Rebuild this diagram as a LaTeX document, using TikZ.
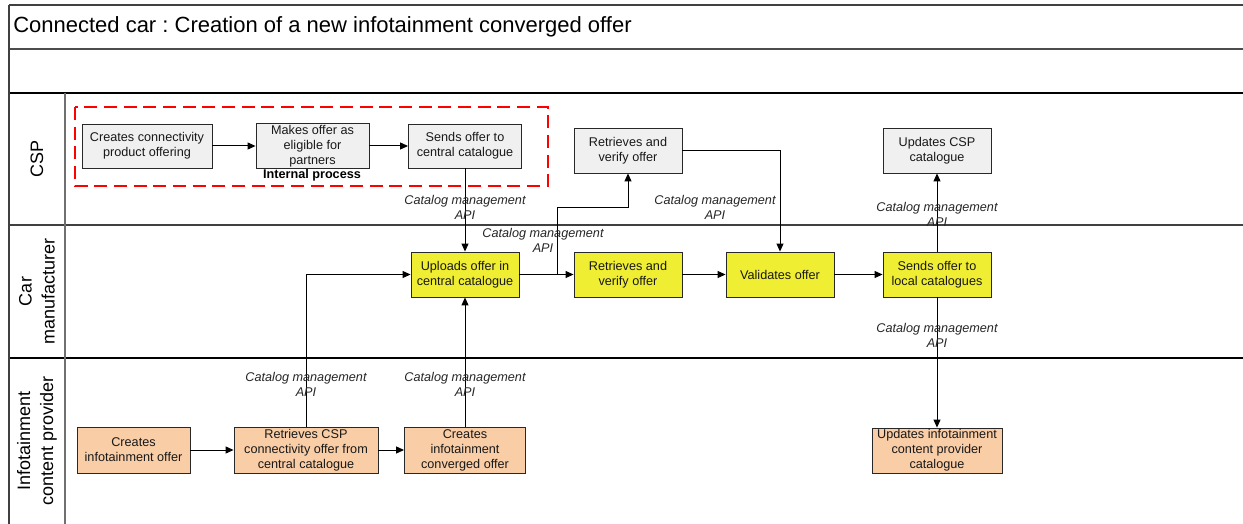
\documentclass[tikz,border=0pt]{standalone}
\usepackage{fontspec}
\setmainfont{Liberation Sans}
\frenchspacing
\usetikzlibrary{arrows.meta}
\definecolor{cspfill}{RGB}{240,240,240}
\definecolor{carfill}{RGB}{240,238,50}
\definecolor{icpfill}{RGB}{249,205,166}
\definecolor{framegray}{RGB}{64,64,64}
\definecolor{colgray}{RGB}{112,112,112}
\definecolor{boxedge}{RGB}{40,40,40}
\tikzset{
  box/.style={draw=boxedge, line width=0.65pt, align=center, inner sep=1pt,
    font=\fontsize{9.5}{11.25}\selectfont, text=black!90},
  cspbox/.style={box, fill=cspfill},
  carbox/.style={box, fill=carfill},
  icpbox/.style={box, fill=icpfill},
  flow/.style={draw=black, line width=0.75pt, -{Triangle[length=6pt,width=5.25pt]}},
  apilabel/.style={align=center, inner sep=0pt,
    font=\fontsize{9.5}{11.25}\selectfont\itshape, text=black!85},
  lanelabel/.style={rotate=90, align=center, inner sep=0pt,
    font=\fontsize{13.5}{17.25}\selectfont},
}
\begin{document}
\begin{tikzpicture}[x=0.75pt, y=-0.75pt]
\useasboundingbox (0,0) rectangle (1243,524);
\fill[white] (0,0) rectangle (1243,524);

% pool frame and lanes
\draw[framegray, line width=1.5pt] (9,5) -- (1243,5);
\draw[black!70, line width=1.3pt] (9,49) -- (1243,49);
\draw[black, line width=1.2pt] (9,93) -- (1243,93);
\draw[framegray, line width=1.9pt] (9,225) -- (1243,225);
\draw[black, line width=1.1pt] (9,358) -- (1243,358);
\draw[framegray, line width=1.3pt] (9,5) -- (9,524);
\draw[colgray, line width=1.3pt] (65,93) -- (65,524);

\node[anchor=west, inner sep=0pt, font=\fontsize{16.5}{18}\selectfont] (title) at (13,27)
  {Connected car : Creation of a new infotainment converged offer};

\node[lanelabel] (lcsp) at (37,159) {CSP};
\node[lanelabel] (lcar) at (37,291.5) {Car\\manufacturer};
\node[lanelabel] (licp) at (37,441) {Infotainment\\content provider};

% internal process group
\draw[red, line width=1.5pt, dash pattern=on 9.75pt off 5pt] (75,107) rectangle (548,186);
\node[inner sep=0pt, font=\fontsize{9.5}{11.25}\selectfont\bfseries] (internal) at (312,175) {Internal process};

% CSP lane
\node[cspbox, minimum width=97.5pt, minimum height=33pt] (b1) at (147,146) {Creates connectivity\\product offering};
\node[cspbox, minimum width=84.75pt, minimum height=33pt] (b2) at (312.5,146) {Makes offer as\\eligible for\\partners};
\node[cspbox, minimum width=84.75pt, minimum height=33pt] (b3) at (465,146) {Sends offer to\\central catalogue};
\node[cspbox, minimum width=81pt, minimum height=33.75pt] (b4) at (628,150.5) {Retrieves and\\verify offer};
\node[cspbox, minimum width=81pt, minimum height=33.75pt] (b5) at (937,150.5) {Updates CSP\\catalogue};

% Car manufacturer lane
\node[carbox, minimum width=81pt, minimum height=33.75pt] (c1) at (465,274.5) {Uploads offer in\\central catalogue};
\node[carbox, minimum width=81pt, minimum height=33.75pt] (c2) at (628,274.5) {Retrieves and\\verify offer};
\node[carbox, minimum width=81pt, minimum height=33.75pt] (c3) at (780,274.5) {Validates offer};
\node[carbox, minimum width=81pt, minimum height=33.75pt] (c4) at (937,274.5) {Sends offer to\\local catalogues};

% Infotainment content provider lane
\node[icpbox, minimum width=84.75pt, minimum height=34.5pt] (i1) at (133.5,450) {Creates\\infotainment offer};
\node[icpbox, minimum width=108pt, minimum height=34.5pt] (i2) at (306,450) {Retrieves CSP\\connectivity offer from\\central catalogue};
\node[icpbox, minimum width=90.75pt, minimum height=34.5pt] (i3) at (465,450) {Creates\\infotainment\\converged offer};
\node[icpbox, minimum width=97.5pt, minimum height=33.75pt] (i4) at (937,450.5) {Updates infotainment\\content provider\\catalogue};

% connectors
\coordinate (j1) at (557,274.5);
\coordinate (j2) at (557,208);
\draw[flow] (b1.east) -- (b2.west);
\draw[flow] (b2.east) -- (b3.west);
\draw[flow] (b3.south) -- (c1.north);
\draw[flow] (c1.east) -- (c2.west);
\draw[flow] (c1.east) -- (j1) -- (j2) -| (b4.south);
\draw[flow] (b4.east) -| (c3.north);
\draw[flow] (c2.east) -- (c3.west);
\draw[flow] (c3.east) -- (c4.west);
\draw[flow] (c4.north) -- (b5.south);
\draw[flow] (c4.south) -- (i4.north);
\draw[flow] (i1.east) -- (i2.west);
\draw[flow] (i2.east) -- (i3.west);
\draw[flow] (i2.north) |- (c1.west);
\draw[flow] (i3.north) -- (c1.south);

% interface labels
\node[apilabel] (a1) at (465,207.5) {Catalog management\\API};
\node[apilabel] (a2) at (543,240) {Catalog management\\API};
\node[apilabel] (a3) at (715,207.5) {Catalog management\\API};
\node[apilabel] (a4) at (937,214.5) {Catalog management\\API};
\node[apilabel] (a5) at (937,335.5) {Catalog management\\API};
\node[apilabel] (a6) at (306,384.5) {Catalog management\\API};
\node[apilabel] (a7) at (465,384.5) {Catalog management\\API};
\end{tikzpicture}
\end{document}
